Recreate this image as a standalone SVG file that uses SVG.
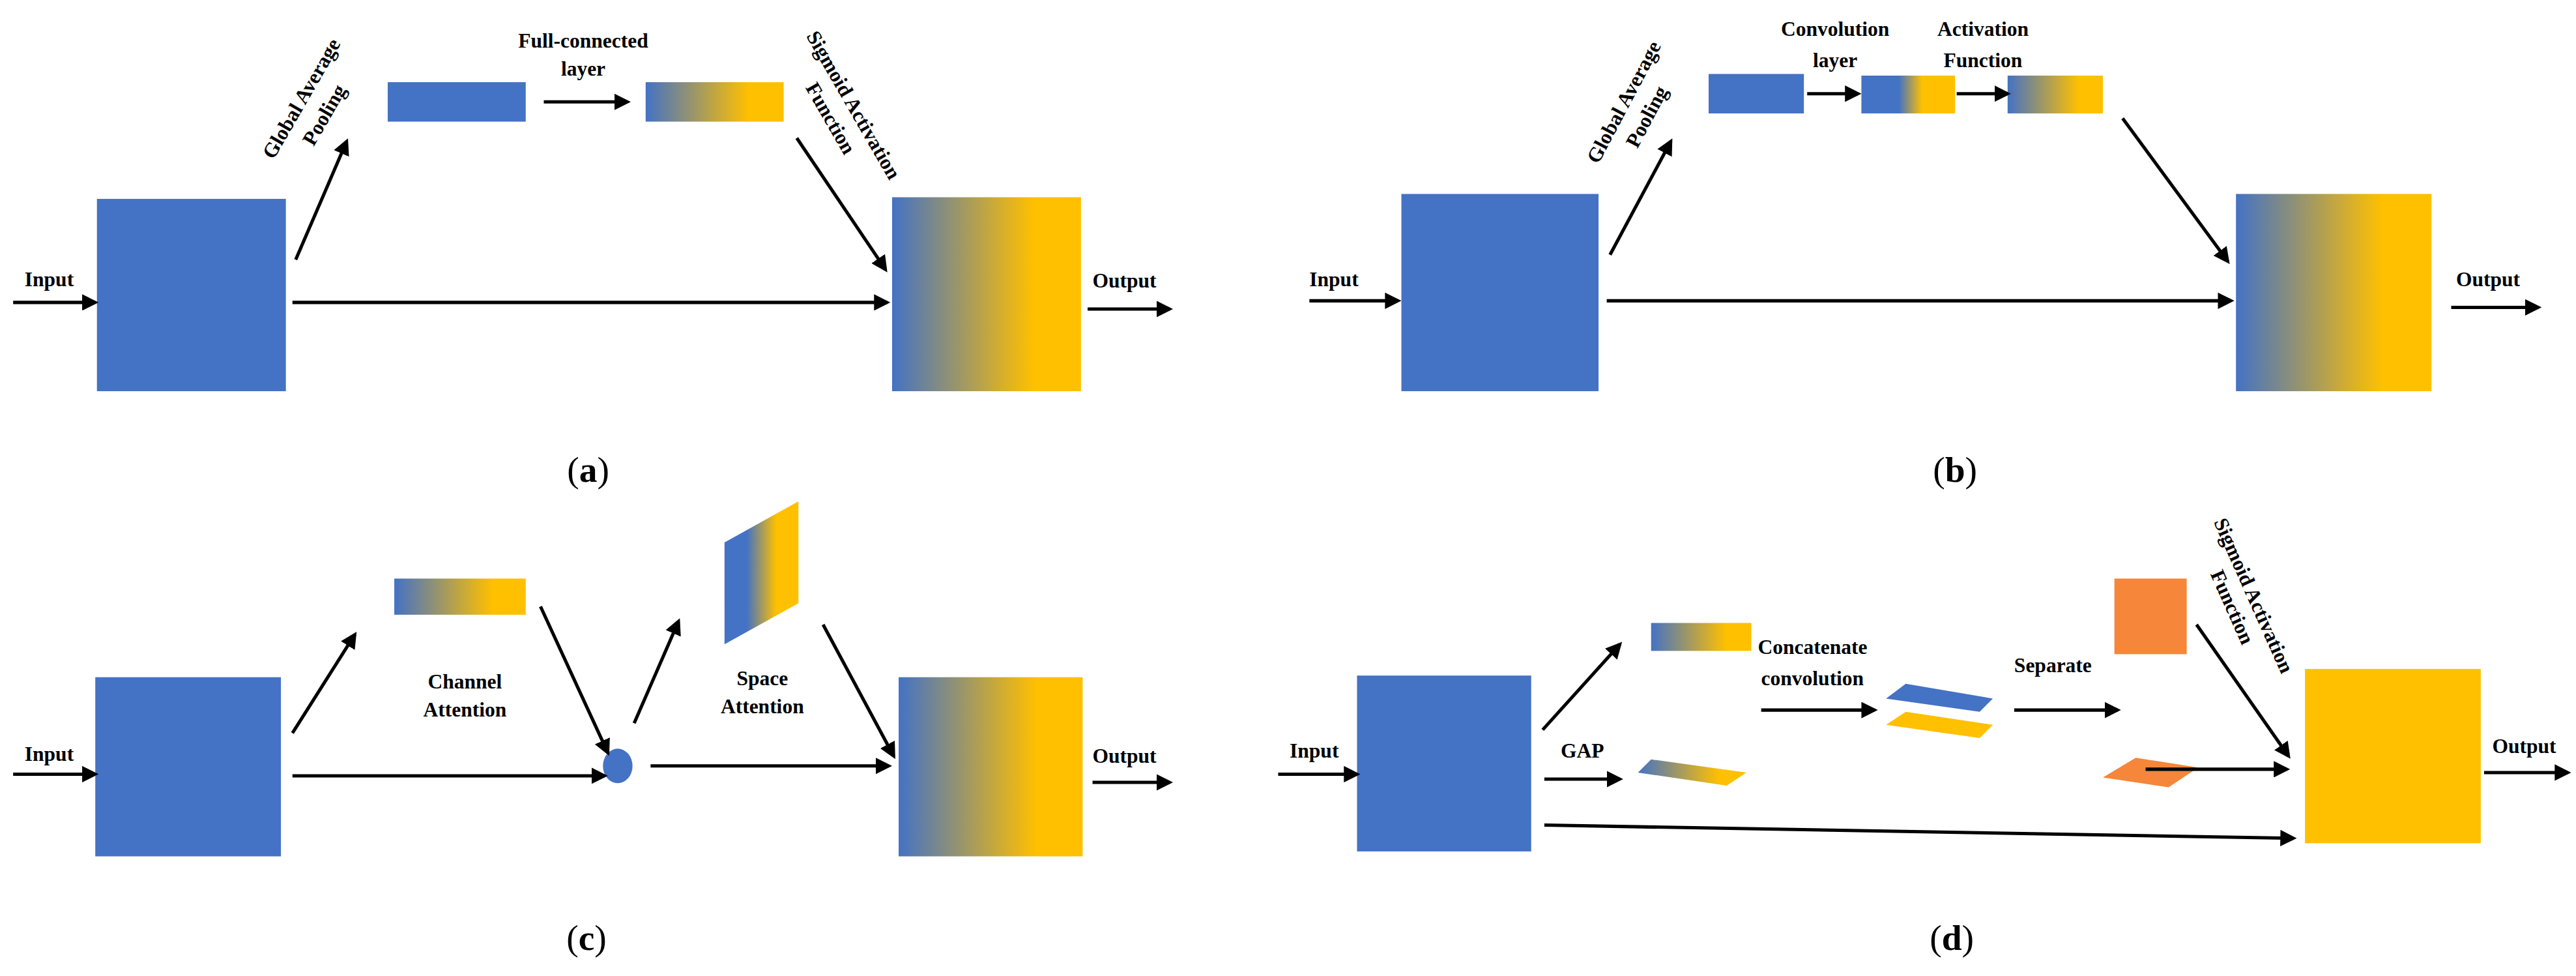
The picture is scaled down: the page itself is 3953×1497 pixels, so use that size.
<svg xmlns="http://www.w3.org/2000/svg" width="3953" height="1497" viewBox="0 0 3953 1497">
<style>
text{font-family:"Liberation Serif","Times New Roman",serif;font-weight:bold;fill:#000}
.t{font-size:12.5px}
.c{text-anchor:middle}
.cap{font-size:22px;font-weight:normal;text-anchor:middle}
.a{stroke:#000;stroke-width:2;fill:none;marker-end:url(#ah)}
.blue{fill:#4472C4}
</style>
<defs>
<marker id="ah" markerUnits="userSpaceOnUse" markerWidth="10" markerHeight="10" viewBox="0 0 10 10" refX="8" refY="5" orient="auto"><path d="M0,0 L10,5 L0,10 z" fill="#000"/></marker>
<linearGradient id="g1" x1="0" y1="0" x2="1" y2="0"><stop offset="0" stop-color="#4472C4"/><stop offset="0.75" stop-color="#FFC000"/><stop offset="1" stop-color="#FFC000"/></linearGradient>
<linearGradient id="g2" x1="0" y1="0" x2="1" y2="0"><stop offset="0.4" stop-color="#4472C4"/><stop offset="0.65" stop-color="#FFC000"/></linearGradient>
<linearGradient id="g3" x1="0" y1="0" x2="1" y2="0"><stop offset="0.3" stop-color="#4472C4"/><stop offset="0.7" stop-color="#FFC000"/></linearGradient>
</defs>
<rect width="3953" height="1497" fill="#fff"/>
<g transform="scale(2.5211)">
<!-- panel a -->
<g id="a-input"><rect class="blue" x="59" y="121" width="115" height="117"/></g>
<g id="a-output"><rect fill="url(#g1)" x="543" y="120" width="115" height="118"/></g>
<g id="a-gap"><rect class="blue" x="236" y="50" width="84" height="24"/></g>
<g id="a-fc"><rect fill="url(#g1)" x="393" y="50" width="84" height="24"/></g>
<g id="a-labels">
<text class="t" x="15" y="174">Input</text>
<text class="t" x="665" y="175">Output</text>
<text class="t c" x="355" y="29">Full-connected</text>
<text class="t c" x="355" y="46">layer</text>
<text class="t c" transform="translate(187,62) rotate(-60)">Global Average</text>
<text class="t c" transform="translate(201,72) rotate(-60)">Pooling</text>
<text class="t c" transform="translate(516,66) rotate(60)">Sigmoid Activation</text>
<text class="t c" transform="translate(502,74) rotate(60)">Function</text>
<text class="cap" x="358" y="293">(<tspan font-weight="bold">a</tspan>)</text>
</g>
<!-- panel b -->
<g id="b-input"><rect class="blue" x="853" y="118" width="120" height="120"/></g>
<g id="b-output"><rect fill="url(#g1)" x="1361" y="118" width="119" height="120"/></g>
<g id="b-r1"><rect class="blue" x="1040" y="45" width="58" height="24"/></g>
<g id="b-r2"><rect fill="url(#g2)" x="1133" y="46" width="57" height="23"/></g>
<g id="b-r3"><rect fill="url(#g1)" x="1222" y="46" width="58" height="23"/></g>
<g id="b-labels">
<text class="t" x="797" y="174">Input</text>
<text class="t" x="1495" y="174">Output</text>
<text class="t c" x="1117" y="22">Convolution</text>
<text class="t c" x="1117" y="41">layer</text>
<text class="t c" x="1207" y="22">Activation</text>
<text class="t c" x="1207" y="41">Function</text>
<text class="t c" transform="translate(992,64) rotate(-62)">Global Average</text>
<text class="t c" transform="translate(1006,73) rotate(-62)">Pooling</text>
<text class="cap" x="1190" y="293">(<tspan font-weight="bold">b</tspan>)</text>
</g>
<!-- panel c -->
<g id="c-input"><rect class="blue" x="58" y="412" width="113" height="109"/></g>
<g id="c-output"><rect fill="url(#g1)" x="547" y="412" width="112" height="109"/></g>
<g id="c-channel"><rect fill="url(#g1)" x="240" y="352" width="80" height="22"/></g>
<g id="c-mult"><ellipse class="blue" cx="376" cy="466" rx="9" ry="10.5"/></g>
<g id="c-space"><polygon fill="url(#g3)" points="441,330 486,305 486,367 441,392"/></g>
<g id="c-labels">
<text class="t" x="15" y="463">Input</text>
<text class="t" x="665" y="464">Output</text>
<text class="t c" x="283" y="419">Channel</text>
<text class="t c" x="283" y="436">Attention</text>
<text class="t c" x="464" y="417">Space</text>
<text class="t c" x="464" y="434">Attention</text>
<text class="cap" x="357" y="578">(<tspan font-weight="bold">c</tspan>)</text>
</g>
<!-- panel d -->
<g id="d-input"><rect class="blue" x="826" y="411" width="106" height="107"/></g>
<g id="d-output"><rect fill="#FFC000" x="1403" y="407" width="107" height="106"/></g>
<g id="d-gapr"><rect fill="url(#g1)" x="1005" y="379" width="61" height="17"/></g>
<g id="d-tilt"><polygon fill="url(#g1)" points="1005,462 1063,470 1051,478 997,470"/></g>
<g id="d-conv-b"><polygon class="blue" points="1160,416 1213,425 1205,433 1148,425"/></g>
<g id="d-conv-y"><polygon fill="#FFC000" points="1160,433 1213,441 1205,449 1148,441"/></g>
<g id="d-orange"><rect fill="#F5863A" x="1287" y="352" width="44" height="46"/></g>
<g id="d-orange2"><polygon fill="#F5863A" points="1300,461 1338,467 1320,479 1280,473"/></g>
<g id="d-labels">
<text class="t" x="785" y="461">Input</text>
<text class="t" x="1517" y="458">Output</text>
<text class="t" x="950" y="461">GAP</text>
<text class="t" x="1070" y="398">Concatenate</text>
<text class="t" x="1072" y="417">convolution</text>
<text class="t" x="1226" y="409">Separate</text>
<text class="t c" transform="translate(1368,364) rotate(66)">Sigmoid Activation</text>
<text class="t c" transform="translate(1355,371) rotate(66)">Function</text>
<text class="cap" x="1188" y="578">(<tspan font-weight="bold">d</tspan>)</text>
</g>
<g id="connectors">
<line class="a" x1="8" y1="184" x2="58" y2="184"/>
<line class="a" x1="178" y1="184" x2="540" y2="184"/>
<line class="a" x1="662" y1="188" x2="712" y2="188"/>
<line class="a" x1="180" y1="158" x2="211" y2="86"/>
<line class="a" x1="331" y1="62" x2="382" y2="62"/>
<line class="a" x1="485" y1="84" x2="539" y2="164"/>
<line class="a" x1="797" y1="183" x2="851" y2="183"/>
<line class="a" x1="978" y1="183" x2="1358" y2="183"/>
<line class="a" x1="1492" y1="187" x2="1545" y2="187"/>
<line class="a" x1="980" y1="155" x2="1017" y2="86"/>
<line class="a" x1="1100" y1="57" x2="1131" y2="57"/>
<line class="a" x1="1191" y1="57" x2="1222" y2="57"/>
<line class="a" x1="1292" y1="72" x2="1356" y2="159"/>
<line class="a" x1="8" y1="471" x2="58" y2="471"/>
<line class="a" x1="178" y1="446" x2="216" y2="386"/>
<line class="a" x1="329" y1="369" x2="370" y2="458"/>
<line class="a" x1="178" y1="472" x2="368" y2="472"/>
<line class="a" x1="386" y1="440" x2="413" y2="378"/>
<line class="a" x1="396" y1="466" x2="541" y2="466"/>
<line class="a" x1="501" y1="380" x2="544" y2="460"/>
<line class="a" x1="665" y1="476" x2="712" y2="476"/>
<line class="a" x1="778" y1="471" x2="826" y2="471"/>
<line class="a" x1="939" y1="444" x2="986" y2="392"/>
<line class="a" x1="940" y1="474" x2="986" y2="474"/>
<line class="a" x1="1072" y1="432" x2="1141" y2="432"/>
<line class="a" x1="1226" y1="432" x2="1289" y2="432"/>
<line class="a" x1="1337" y1="380" x2="1393" y2="460"/>
<line class="a" x1="1306" y1="468" x2="1392" y2="468"/>
<line class="a" x1="940" y1="502" x2="1396" y2="510"/>
<line class="a" x1="1512" y1="470" x2="1563" y2="470"/>
</g>
</g>
</svg>
